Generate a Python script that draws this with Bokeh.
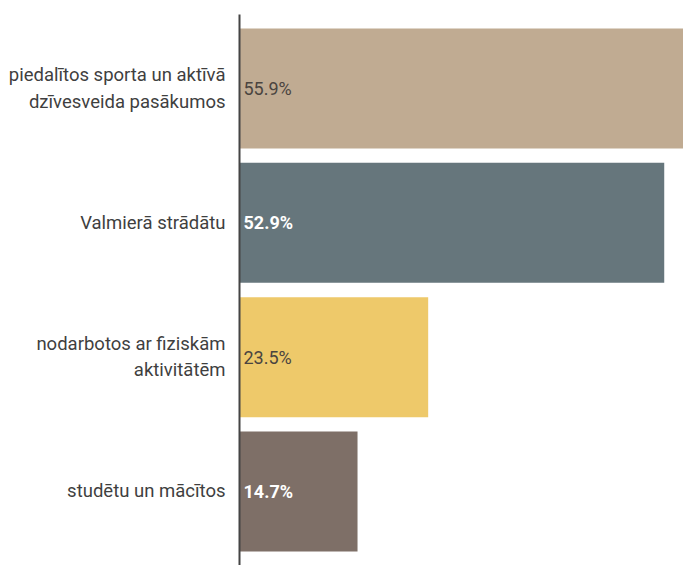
from bokeh.plotting import figure
from bokeh.models import ColumnDataSource, Range1d, FixedTicker
from bokeh.core.properties import value
from bokeh.embed import file_html
from bokeh.resources import INLINE

categories = ["piedalītos sporta un aktīvā\ndzīvesveida pasākumos",
              "Valmierā strādātu",
              "nodarbotos ar fiziskām\naktivitātēm",
              "studētu un mācītos"]
values = [55.9, 52.9, 23.5, 14.7]
labels = ["55.9%", "52.9%", "23.5%", "14.7%"]
colors = ["#c0ab92", "#66767c", "#eec96a", "#7e6f67"]
label_colors = ["#4a4440", "#ffffff", "#4a4440", "#ffffff"]
label_weights = ["normal", "bold", "normal", "bold"]

n = len(categories)
ypos = [n - 1 - i for i in range(n)]

src = ColumnDataSource(dict(y=ypos, v=values, c=colors, lab=labels,
                            lc=label_colors, lw=label_weights,
                            x0=[0] * n))

p = figure(width=683, height=565, output_backend="svg", toolbar_location=None,
           x_range=Range1d(0, 55.3), y_range=Range1d(-0.551, 3.551),
           min_border_left=239, min_border_right=0, min_border_top=14,
           min_border_bottom=0)

p.hbar(y="y", left=0, right="v", height=0.893, fill_color="c",
       line_color=None, source=src)
p.text(x="x0", y="y", text="lab", text_color="lc", text_font_style="lw",
       text_font=value("Roboto"), text_font_size="18px",
       text_baseline="middle", text_align="left", x_offset=4, source=src)

p.xaxis.visible = False
p.xgrid.visible = False
p.ygrid.visible = False
p.outline_line_color = None

ya = p.yaxis[0]
ya.ticker = FixedTicker(ticks=ypos)
ya.major_label_overrides = {ypos[i]: categories[i] for i in range(n)}
ya.major_tick_line_color = None
ya.minor_tick_line_color = None
ya.axis_line_color = "#444444"
ya.axis_line_width = 2
ya.major_label_text_font = "Roboto"
ya.major_label_text_font_size = "18.5px"
ya.major_label_text_color = "#3f3f3f"
ya.major_label_standoff = 8

open("out.html", "w").write(file_html(p, INLINE))
